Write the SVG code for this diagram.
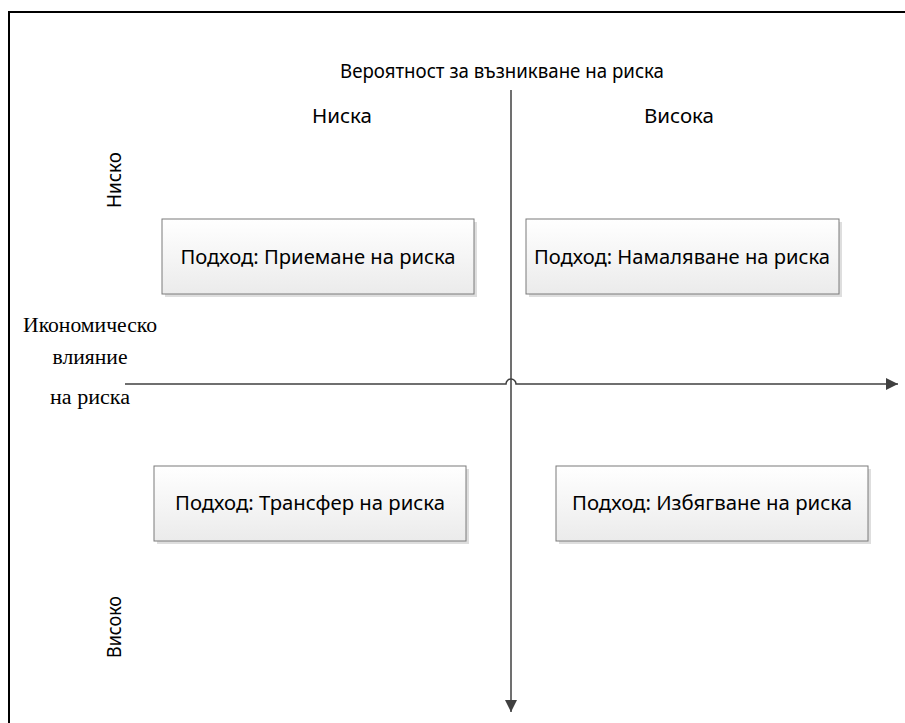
<svg xmlns="http://www.w3.org/2000/svg" width="905" height="723" viewBox="0 0 905 723">
<style>
.sans{font-family:"Noto Sans","Open Sans","Liberation Sans",sans-serif;font-size:19px;fill:#000}
.serif{font-family:"Liberation Serif","DejaVu Serif",serif;font-size:20px;fill:#000;text-anchor:middle}
.box{fill:url(#g);stroke:#7a7a7a;stroke-width:1}
.shadow{fill:#c8c8c8;opacity:0.6}
.axis{fill:none;stroke:#404040;stroke-width:1.5}
</style>
<defs>
<linearGradient id="g" x1="0" y1="0" x2="0" y2="1">
<stop offset="0" stop-color="#ffffff"/>
<stop offset="1" stop-color="#ebebeb"/>
</linearGradient>
<marker id="arr" viewBox="0 0 12 12" refX="12" refY="6" markerWidth="12" markerHeight="12" markerUnits="userSpaceOnUse" orient="auto">
<path d="M0,0 L12,6 L0,12 Z" fill="#404040"/>
</marker>
</defs>
<rect width="905" height="723" fill="#fff"/>
<path d="M9,723 V12 H905" fill="none" stroke="#000" stroke-width="2"/>
<g id="connectors">
<path class="axis" d="M511,90 V712" marker-end="url(#arr)"/>
<path class="axis" d="M125,384 H506 A5,5 0 0 1 516,384 H898" marker-end="url(#arr)"/>
</g>
<g id="labels">
<text class="sans" x="502" y="78" text-anchor="middle" textLength="324" lengthAdjust="spacingAndGlyphs">Вероятност за възникване на риска</text>
<text class="sans" x="342" y="123" text-anchor="middle" textLength="60" lengthAdjust="spacingAndGlyphs">Ниска</text>
<text class="sans" x="679" y="123" text-anchor="middle" textLength="70" lengthAdjust="spacingAndGlyphs">Висока</text>
<text class="sans" transform="translate(121,180) rotate(-90)" text-anchor="middle" textLength="56" lengthAdjust="spacingAndGlyphs">Ниско</text>
<text class="sans" transform="translate(121,627) rotate(-90)" text-anchor="middle" textLength="62" lengthAdjust="spacingAndGlyphs">Високо</text>
<text class="serif" x="90" y="332" textLength="134" lengthAdjust="spacingAndGlyphs">Икономическо</text>
<text class="serif" x="90" y="364" textLength="75" lengthAdjust="spacingAndGlyphs">влияние</text>
<text class="serif" x="90" y="404" textLength="80" lengthAdjust="spacingAndGlyphs">на риска</text>
</g>
<g id="n1">
<rect class="shadow" x="165" y="222" width="312" height="75"/>
<rect class="box" x="162" y="219" width="312" height="75"/>
<text class="sans" x="318" y="264" text-anchor="middle" textLength="275" lengthAdjust="spacingAndGlyphs">Подход: Приемане на риска</text>
</g>
<g id="n2">
<rect class="shadow" x="529" y="222" width="313" height="75"/>
<rect class="box" x="526" y="219" width="313" height="75"/>
<text class="sans" x="682" y="264" text-anchor="middle" textLength="296" lengthAdjust="spacingAndGlyphs">Подход: Намаляване на риска</text>
</g>
<g id="n3">
<rect class="shadow" x="157" y="469" width="312" height="75"/>
<rect class="box" x="154" y="466" width="312" height="75"/>
<text class="sans" x="310" y="510" text-anchor="middle" textLength="270" lengthAdjust="spacingAndGlyphs">Подход: Трансфер на риска</text>
</g>
<g id="n4">
<rect class="shadow" x="559" y="469" width="312" height="75"/>
<rect class="box" x="556" y="466" width="312" height="75"/>
<text class="sans" x="712" y="510" text-anchor="middle" textLength="280" lengthAdjust="spacingAndGlyphs">Подход: Избягване на риска</text>
</g>
</svg>
